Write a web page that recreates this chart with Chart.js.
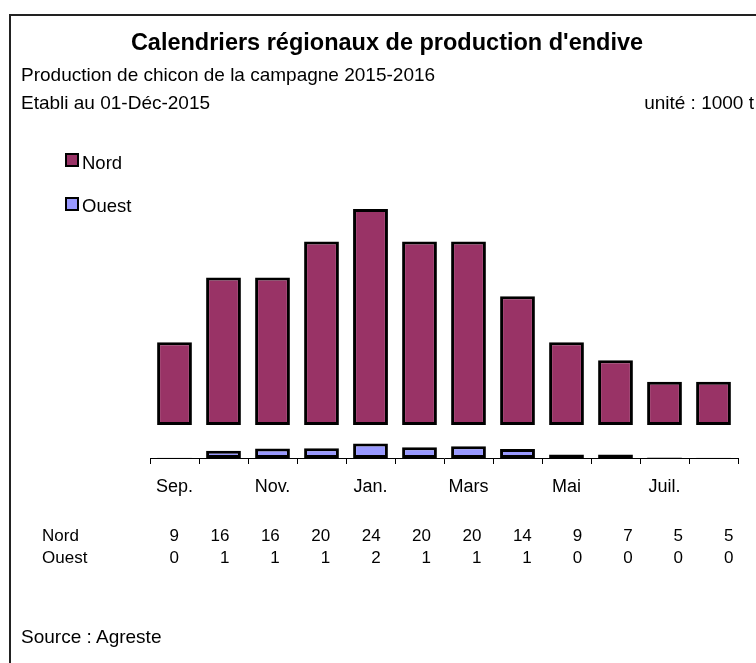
<!DOCTYPE html>
<html>
<head>
<meta charset="utf-8">
<script src="https://cdn.jsdelivr.net/npm/chart.js@4"></script>
<style>
  html, body { margin: 0; padding: 0; background: #fff; }
  body { width: 756px; height: 663px; position: relative; overflow: hidden;
         font-family: "Liberation Sans", Arial, sans-serif; color: #000; }
  #frame { position: absolute; left: 9px; top: 14px; right: -10px; bottom: -10px;
           border-top: 2px solid #222; border-left: 2px solid #222; }
  #chartBox { position: absolute; left: 0; top: 0; width: 756px; height: 663px; }
  .txt { position: absolute; white-space: nowrap; line-height: normal; }
  .t19 { font-size: 19px; }
  .t18 { font-size: 18.5px; }
  .t17 { font-size: 17px; }
  #title { font-size: 23.5px; font-weight: bold; left: 387px; top: 28.5px; transform: translateX(-50%); }
  .sw { position: absolute; width: 10px; height: 10px; border: 2px solid #000; }
  .num { position: absolute; font-size: 17px; text-align: right; width: 40px; }
</style>
</head>
<body>
<div id="frame"></div>
<div id="chartBox"><canvas id="chart" width="756" height="663"></canvas></div>

<div id="title" class="txt">Calendriers régionaux de production d'endive</div>
<div class="txt t19" style="left:21px; top:63.5px;">Production de chicon de la campagne 2015-2016</div>
<div class="txt t19" style="left:21px; top:92px;">Etabli au 01-Déc-2015</div>
<div class="txt t19" style="right:2px; top:92px;">unité : 1000 t</div>

<div id="legend"></div>
<div id="table"></div>

<div class="txt t19" style="left:21px; top:625.5px;">Source : Agreste</div>

<script>
const months = ['Sep.', 'Oct.', 'Nov.', 'Déc.', 'Jan.', 'Fév.', 'Mars', 'Avr.', 'Mai', 'Juin', 'Juil.', 'Août'];
const nord = [9.2, 16.4, 16.4, 20.4, 24.0, 20.4, 20.4, 14.3, 9.2, 7.2, 4.8, 4.8];
const ouest = [0.04, 0.8, 1.05, 1.07, 1.6, 1.2, 1.3, 1.0, 0.4, 0.4, 0.05, 0.04];
const seriesNames = ['Nord', 'Ouest'];
const seriesColors = ['#993366', '#9999FF'];

// Nord sits on a separate band above the Ouest bars (Excel-style spacer)
const nordBase = 3.66;

const ctx = document.getElementById('chart').getContext('2d');
new Chart(ctx, {
  type: 'bar',
  data: {
    labels: months,
    datasets: [
      {
        label: seriesNames[0],
        data: nord.map(v => [nordBase, nordBase + v]),
        backgroundColor: seriesColors[0],
        borderColor: '#000',
        borderWidth: 3,
        borderSkipped: false
      },
      {
        label: seriesNames[1],
        data: ouest.map(v => [0, v]),
        backgroundColor: seriesColors[1],
        borderColor: '#000',
        borderWidth: 3,
        borderSkipped: false
      }
    ]
  },
  options: {
    responsive: false,
    animation: false,
    datasets: { bar: { barPercentage: 0.71, categoryPercentage: 1 } },
    layout: { padding: { left: 150, right: 18, top: 188, bottom: 153.4 } },
    plugins: {
      legend: { display: false },
      tooltip: { enabled: false },
      title: { display: false }
    },
    scales: {
      x: {
        stacked: true,
        border: { display: true, color: '#000', width: 1 },
        grid: { drawOnChartArea: false, drawTicks: true, tickLength: 6, color: '#000', offset: true },
        ticks: {
          autoSkip: false,
          maxRotation: 0,
          padding: 12,
          color: '#000',
          font: { family: '"Liberation Sans", Arial, sans-serif', size: 18 },
          callback: function (value, index) {
            return index % 2 === 0 ? this.getLabelForValue(value) : '';
          }
        }
      },
      y: {
        stacked: false,
        display: false,
        min: 0,
        max: 30
      }
    }
  }
});

// legend
const legend = document.getElementById('legend');
const legendTops = [151.6, 195];
const swatchTops = [153, 197.3];
seriesNames.forEach((name, i) => {
  const sw = document.createElement('div');
  sw.className = 'sw';
  sw.style.left = '65px';
  sw.style.top = swatchTops[i] + 'px';
  sw.style.background = seriesColors[i];
  legend.appendChild(sw);
  const t = document.createElement('div');
  t.className = 'txt t18';
  t.style.left = '82px';
  t.style.top = legendTops[i] + 'px';
  t.textContent = name;
  legend.appendChild(t);
});

// data table under the axis
const table = document.getElementById('table');
const rows = [nord, ouest];
const rowTops = [525.6, 547.9];
rows.forEach((vals, r) => {
  const lab = document.createElement('div');
  lab.className = 'txt t17';
  lab.style.left = '42px';
  lab.style.top = rowTops[r] + 'px';
  lab.textContent = seriesNames[r];
  table.appendChild(lab);
  vals.forEach((v, i) => {
    const c = document.createElement('div');
    c.className = 'num';
    c.style.left = (179 + i * 50.4 - 40) + 'px';
    c.style.top = rowTops[r] + 'px';
    c.textContent = Math.round(v);
    table.appendChild(c);
  });
});
</script>
</body>
</html>
